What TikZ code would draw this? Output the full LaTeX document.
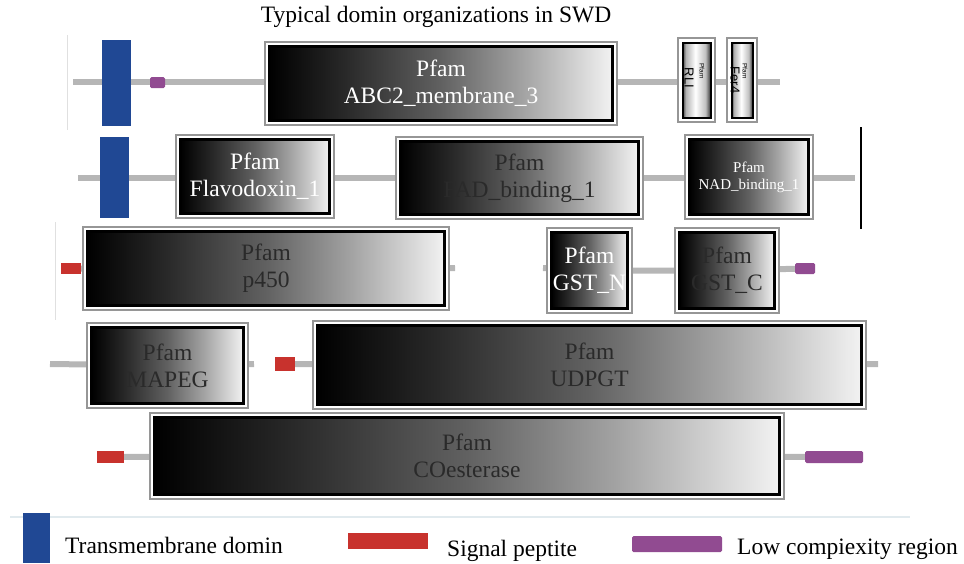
\documentclass[tikz,border=0pt]{standalone}
\usepackage{fontspec}
\setmainfont{Liberation Serif}
\newfontfamily\tagsans{Liberation Sans}
\usetikzlibrary{backgrounds}

\definecolor{spine}{RGB}{182,182,182}
\definecolor{framegray}{RGB}{150,150,150}
\definecolor{tmblue}{RGB}{32,72,148}
\definecolor{sigred}{RGB}{200,50,45}
\definecolor{lcrpurple}{RGB}{145,75,145}
\definecolor{labeldark}{RGB}{42,42,42}
\definecolor{rulelight}{RGB}{225,234,238}

% black on the left fading to near white on the right
\pgfdeclarehorizontalshading{pfamshade}{100bp}{color(0bp)=(black); color(25bp)=(black); color(36bp)=(black!84); color(50bp)=(black!62); color(62bp)=(black!36); color(75bp)=(black!5); color(100bp)=(black!5)}
% narrow tag boxes: dark edges, light centre
\pgfdeclarehorizontalshading{tagshade}{100bp}{color(0bp)=(black!75); color(25bp)=(black!75); color(31bp)=(black!30); color(48bp)=(white); color(66bp)=(black!25); color(75bp)=(black!80); color(100bp)=(black!80)}

\newcommand\pfamfont{\fontsize{23.5}{27}\selectfont}
\newcommand\nadfont{\fontsize{15}{17}\selectfont}

% domain box: #1 name, #2 extra style, #3-#6 outer frame corners, #7 label
\newcommand\PfamBox[7]{%
  \draw[pfamframe] (#3,#4) rectangle (#5,#6);
  \pgfmathsetmacro\bw{#5-#3-9}\pgfmathsetmacro\bh{#6-#4-9}%
  \node[pfam,#2,minimum width=\bw pt,minimum height=\bh pt] (#1) at ({(#3+#5)/2},{(#4+#6)/2}) {#7};}

% flat coloured block: #1 name, #2 style, #3-#6 corners
\newcommand\RectNode[6]{%
  \pgfmathsetmacro\rw{#5-#3}\pgfmathsetmacro\rh{#6-#4}%
  \node[#2,minimum width=\rw pt,minimum height=\rh pt,inner sep=0pt,outer sep=0pt] (#1) at ({(#3+#5)/2},{(#4+#6)/2}) {};}

\begin{document}
\begin{tikzpicture}[x=1pt,y=-1pt,
  backbone/.style={draw=spine,line width=6pt},
  pfamframe/.style={draw=framegray,line width=1.2pt,fill=white},
  pfam/.style={draw=black,line width=2.6pt,shade,shading=pfamshade,inner sep=0pt,align=center,font=\pfamfont},
  tagbox/.style={shading=tagshade,line width=2pt},
  lighttext/.style={text=white},
  darktext/.style={text=labeldark},
  tmbar/.style={fill=tmblue},
  sigpep/.style={fill=sigred},
  lcr/.style={fill=lcrpurple,rounded corners=1.5pt},
  legendtext/.style={font=\pfamfont,anchor=base west,inner sep=0pt},
  tagsmall/.style={rotate=-90,font=\tagsans\fontsize{6.5}{7}\selectfont,inner sep=0pt},
  tagbig/.style={rotate=-90,font=\tagsans\fontsize{13}{14}\selectfont,inner sep=0pt},
  faint/.style={draw=black!12,line width=1pt},
]
\useasboundingbox (0,0) rectangle (964,563);

\node[font=\pfamfont,inner sep=0pt] (title) at (436,17) {Typical domin organizations in SWD};

% ---- row 1
\coordinate (r1a) at (73,82);
\coordinate (r1b) at (780,82);
\RectNode{tm1}{tmbar}{102}{40}{131}{126}
\RectNode{lcr1}{lcr}{150}{77}{165}{88}
\PfamBox{abc2}{lighttext}{265}{42}{617}{125}{Pfam\\ABC2\_membrane\_3}
\PfamBox{rli}{tagbox}{678}{38}{715}{122}{}
\PfamBox{fer4}{tagbox}{727}{38}{757}{122}{}
\node[tagsmall] (rlip) at (702,71) {Pfam};
\node[tagbig] (rlit) at (689,78) {RLI};
\node[tagsmall] (ferp) at (745,71) {Pfam};
\node[tagbig] (fert) at (735,80) {Fer4};

% ---- row 2
\coordinate (r2a) at (78,178);
\coordinate (r2b) at (855,178);
\coordinate (r2t) at (861,127);
\coordinate (r2u) at (861,229);
\RectNode{tm2}{tmbar}{100}{137}{129}{218}
\PfamBox{flav}{lighttext}{176}{135}{334}{218}{Pfam\\Flavodoxin\_1}
\PfamBox{fad}{darktext}{396}{137}{643}{219}{Pfam\\FAD\_binding\_1}
\PfamBox{nad}{lighttext,font=\nadfont}{685}{135}{813}{219}{Pfam\\NAD\_binding\_1}

% ---- row 3
\coordinate (r3stub) at (455,268);
\coordinate (r3gst) at (543,268);
\RectNode{sp3}{sigpep}{61}{263}{81}{274}
\PfamBox{p450}{darktext}{83}{227}{449}{310}{Pfam\\p450}
\PfamBox{gstn}{lighttext}{547}{228}{632}{313}{Pfam\\GST\_N}
\PfamBox{gstc}{darktext}{675}{228}{779}{313}{Pfam\\GST\_C}
\RectNode{lcr3}{lcr}{795}{263}{815}{274}

% ---- row 4
\coordinate (r4a) at (50,364);
\coordinate (r4stub) at (254,364);
\coordinate (r4b) at (878,364);
\PfamBox{mapeg}{darktext}{87}{323}{248}{408}{Pfam\\MAPEG}
\RectNode{sp4}{sigpep}{275}{357}{295}{371}
\PfamBox{udpgt}{darktext}{313}{321}{866}{409}{Pfam\\UDPGT}

% ---- row 5
\RectNode{sp5}{sigpep}{97}{451}{124}{463}
\PfamBox{coest}{darktext}{150}{413}{784}{499}{Pfam\\COesterase}
\RectNode{lcr5}{lcr}{805}{451}{863}{463}

% ---- legend
\coordinate (sepa) at (10,517);
\coordinate (sepb) at (910,517);
\RectNode{legtm}{tmbar}{23}{513}{50}{563}
\RectNode{legsp}{sigpep}{348}{533}{428}{549}
\RectNode{leglcr}{lcr}{632}{536}{722}{552}
\node[legendtext] (legtmt) at (65,553) {Transmembrane domin};
\node[legendtext] (legspt) at (447,556) {Signal peptite};
\node[legendtext] (leglcrt) at (737,554) {Low compiexity region};

% ---- protein backbones behind the domains
\begin{pgfonlayer}{background}
  \draw[backbone] (r1a) -- (r1b);
  \draw[backbone] (r2a) -- (r2b);
  \draw[black,line width=1.4pt] (r2t) -- (r2u);
  \draw[backbone] (sp3.center) -- (p450.center) -- (r3stub);
  \draw[backbone] (r3gst) -- (gstn.center) -- (gstc.center) -- (lcr3.center);
  \draw[backbone] (r4a) -- (mapeg.center) -- (r4stub);
  \draw[backbone] (sp4.center) -- (udpgt.center) -- (r4b);
  \draw[backbone] (sp5.center) -- (coest.center) -- (lcr5.center);
  \draw[draw=rulelight,line width=1.5pt] (sepa) -- (sepb);
  \draw[faint] (67,35) -- (67,130);
  \draw[faint] (55,222) -- (55,320);
\end{pgfonlayer}
\end{tikzpicture}
\end{document}
